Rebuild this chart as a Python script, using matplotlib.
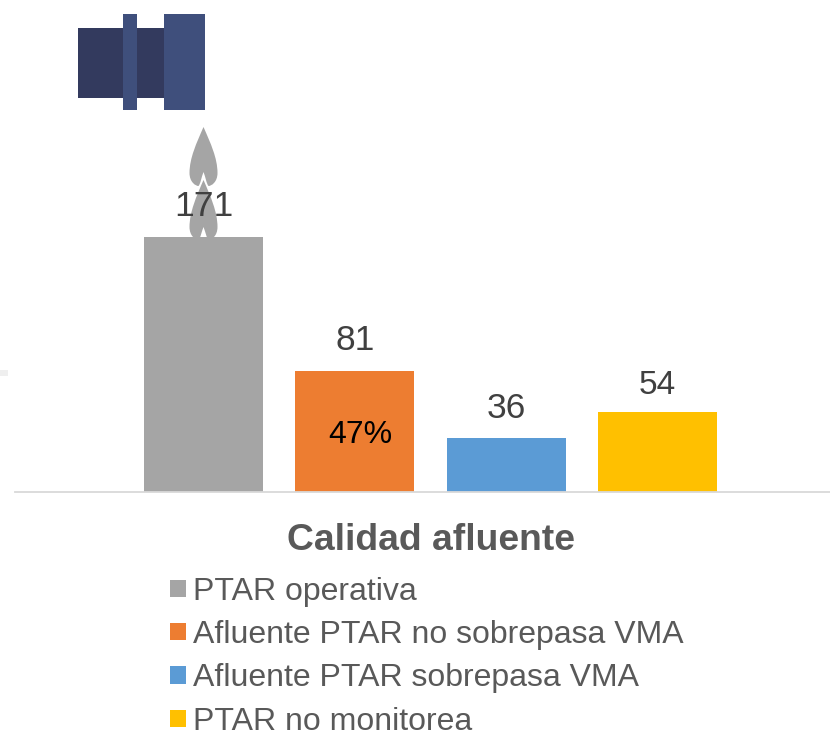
#!/usr/bin/env python3
# coding: utf-8

import matplotlib
matplotlib.use('Agg')
import matplotlib.pyplot as plt
from matplotlib.patches import PathPatch, Rectangle
from matplotlib.path import Path

plt.rcParams['font.family'] = ['Liberation Sans', 'DejaVu Sans']

# data
categorias = ['PTAR operativa', 'Afluente PTAR no sobrepasa VMA',
              'Afluente PTAR sobrepasa VMA', 'PTAR no monitorea']
valores = [171, 81, 36, 54]
colores = ['#a5a5a5', '#ed7d31', '#5b9bd5', '#ffc000']
etiqueta_pct = '47%'
titulo = 'Calidad afluente'

W, H = 830, 731
fig = plt.figure(figsize=[W / 100, H / 100], dpi=100)

# bars, axes runs from the baseline up to the top of the figure
ax = fig.add_axes([15 / W, 1 - 492 / H, (W - 15) / W, 492 / H])
posiciones = list(range(len(valores)))
barras = []
for i, v in enumerate(valores):
    b = ax.bar(posiciones[i], v, width=0.787, color=colores[i], label=categorias[i], zorder=2)
    barras.append(b)
ax.set_xlim(-1.246, 4.14)
ax.set_ylim(0, 330.5)
ax.set_xticks([])
ax.set_yticks([])
for s in ['top', 'left', 'right']:
    ax.spines[s].set_visible(False)
ax.spines['bottom'].set_color('#d9d9d9')
ax.spines['bottom'].set_linewidth(1.3)
ax.patch.set_alpha(0)

tamanos = [25.5, 25.5, 25.5, 24]
desfases = [14, 14, 13, 11]
for i, v in enumerate(valores):
    ax.annotate(str(v), (posiciones[i], v), xytext=(0, desfases[i]), textcoords='offset pixels',
                ha='center', va='bottom', fontsize=tamanos[i], color='#404040', zorder=5)
ax.annotate(etiqueta_pct, (posiciones[1], valores[1] / 2), xytext=(5, -3), textcoords='offset pixels',
            ha='center', va='center', fontsize=23, color='black', zorder=5)

# title + legend
fig.text(431 / W, 1 - 540 / H, titulo, ha='center', va='center',
         fontsize=26.8, fontweight='bold', color='#595959')
leg = ax.legend(loc='upper left', bbox_to_anchor=(160 / W, 1 - 567 / H),
                bbox_transform=fig.transFigure, frameon=False, fontsize=23,
                handlelength=0.5, handleheight=0.45, handletextpad=0.22,
                labelspacing=0.42, borderaxespad=0, borderpad=0.3)
for t in leg.get_texts():
    t.set_color('#595959')

# pipe and drops, drawn in pixel coordinates
deco = fig.add_axes([0, 0, 1, 1], zorder=1)
deco.set_xlim(0, W)
deco.set_ylim(H, 0)
deco.axis('off')
deco.add_patch(Rectangle((78, 28), 86, 70, color='#333a5e', lw=0))
deco.add_patch(Rectangle((122.7, 14), 14.3, 96, color='#3f4f7c', lw=0))
deco.add_patch(Rectangle((164, 14), 41, 96, color='#3f4f7c', lw=0))
deco.add_patch(Rectangle((0, 370), 8, 6, color='#efefef', lw=0))


def gota(cx, tip, bottom, notch):
    # drop with a notch in the underside
    verts = [(cx, tip),
             (cx - 7, tip + 16), (cx - 14, bottom - 28), (cx - 14, bottom - 13),
             (cx - 14, bottom - 4), (cx - 8, bottom), (cx - 5, bottom),
             (cx - 3, bottom - 2), (cx - 2, notch + 5), (cx, notch),
             (cx + 2, notch + 5), (cx + 3, bottom - 2), (cx + 5, bottom),
             (cx + 8, bottom), (cx + 14, bottom - 4), (cx + 14, bottom - 13),
             (cx + 14, bottom - 28), (cx + 7, tip + 16), (cx, tip),
             (cx, tip)]
    codes = [Path.MOVETO] + [Path.CURVE4] * 18 + [Path.CLOSEPOLY]
    return Path(verts, codes)


deco.add_patch(PathPatch(gota(203.5, 127, 186, 172), fc='#a5a5a5', ec='none'))
deco.add_patch(PathPatch(gota(203.5, 180, 240, 227), fc='#a5a5a5', ec='none'))
ax.set_zorder(2)

fig.savefig('out.png', dpi=100)
